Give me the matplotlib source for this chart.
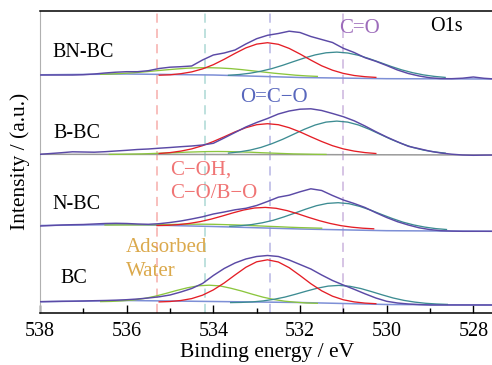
import numpy as np
import matplotlib.pyplot as plt

plt.rcParams['font.family'] = ['Liberation Serif', 'DejaVu Serif']

# ---- data (intensities in a.u., relative to each spectrum's own zero) ----
samples = ["BN-BC", "B-BC", "N-BC", "BC"]

# measured O1s spectra, 538 -> 527.5 eV every 0.25 eV
energy = np.arange(538.0, 527.4, -0.25)
raw = {
    "BN-BC": [4.0, 4.0, 4.0, 4.0, 4.3, 5.0, 6.0, 6.8, 7.3, 7.3, 8.3, 10.5, 11.8, 12.3, 13.0,
              19.0, 24.0, 26.0, 29.0, 35.0, 40.3, 43.7, 45.5, 47.8, 46.5, 42.5, 39.5, 36.5,
              30.7, 26.5, 21.3, 17.7, 13.5, 9.0, 5.5, 3.0, 1.2, 0.4, 0.3, 0.8, 2.0, 0.7, 0.0],
    "B-BC": [0.5, 1.3, 2.1, 3.0, 2.8, 2.6, 3.1, 3.8, 4.5, 5.3, 5.8, 6.6, 7.3, 8.1, 8.8,
             9.8, 11.5, 16.8, 22.3, 27.8, 32.3, 36.3, 40.8, 43.8, 45.6, 46.0, 44.3, 41.3,
             38.1, 34.0, 28.8, 23.1, 17.8, 13.0, 8.5, 6.1, 3.6, 1.8, 0.6, -0.2, -0.5, -0.3, -0.2],
    "N-BC": [5.0, 5.5, 6.0, 6.3, 6.5, 7.0, 7.5, 7.7, 7.5, 7.0, 6.7, 7.3, 8.5, 10.0, 12.0,
             14.2, 17.0, 19.0, 21.2, 22.7, 25.5, 29.5, 33.8, 35.8, 39.2, 42.2, 40.5, 35.5,
             31.0, 27.5, 23.5, 18.3, 13.5, 9.3, 6.0, 3.2, 1.4, 0.3, -0.1, -0.3, -0.3, -0.3, -0.3],
    "BC": [3.3, 3.5, 3.7, 3.8, 4.0, 4.3, 4.5, 4.8, 5.3, 6.0, 7.0, 8.2, 10.0, 13.0, 16.5,
           21.5, 29.5, 36.5, 42.0, 46.0, 48.5, 49.5, 48.5, 45.0, 40.5, 36.0, 30.0, 24.5,
           20.0, 15.7, 11.2, 7.0, 3.7, 2.0, 1.0, 0.4, 0.0, 0.0, 0.0, 0.0, 0.0, 0.0, 0.0],
}

# background under the fit
bg_energy = [538.0, 536.0, 534.0, 532.0, 530.0, 527.5]
background = {
    "BN-BC": [4.2, 5.0, 4.0, 1.5, 0.3, 0.0],
    "B-BC": [0.5, 0.4, 0.3, 0.2, 0.0, -0.2],
    "N-BC": [5.5, 6.5, 4.5, 2.0, 0.3, -0.3],
    "BC": [3.3, 4.5, 3.5, 2.5, 0.5, 0.0],
}

# fitted components: centre (eV) and curve sampled every 0.25 eV from centre+2.5 to centre-2.5
water_center = {"BN-BC": 534.1, "B-BC": 533.9, "N-BC": 534.0, "BC": 534.1}
water = {
    "BN-BC": [4.7, 5.0, 5.6, 6.2, 7.1, 8.1, 9.1, 10.0, 10.8, 11.2, 11.3, 11.0, 10.4, 9.4, 8.2, 7.0, 5.8, 4.8, 3.8, 3.1, 2.6],
    "B-BC": [0.4, 0.5, 0.7, 0.9, 1.3, 1.7, 2.1, 2.6, 2.9, 3.2, 3.3, 3.2, 2.9, 2.6, 2.1, 1.7, 1.3, 0.9, 0.7, 0.5, 0.4],
    "N-BC": [6.0, 6.0, 6.0, 6.1, 6.2, 6.3, 6.5, 6.7, 6.8, 6.8, 6.7, 6.4, 6.1, 5.7, 5.2, 4.7, 4.3, 3.8, 3.4, 3.1, 2.8],
    "BC": [3.4, 3.6, 4.2, 5.0, 6.5, 8.7, 11.5, 14.5, 17.2, 19.2, 19.8, 19.1, 16.8, 14.0, 10.8, 7.8, 5.5, 3.8, 2.8, 2.0, 1.7],
}
coh_center = {"BN-BC": 532.75, "B-BC": 532.75, "N-BC": 532.8, "BC": 532.75}
coh = {
    "BN-BC": [3.8, 4.2, 5.3, 7.1, 10.1, 14.3, 19.7, 25.6, 31.1, 34.9, 36.3, 34.7, 30.6, 25.0, 18.9, 13.2, 8.8, 5.6, 3.5, 2.3, 1.6],
    "B-BC": [1.3, 2.2, 3.7, 5.9, 9.1, 13.3, 18.0, 22.9, 27.1, 30.1, 31.1, 30.1, 27.1, 22.9, 18.0, 13.3, 9.1, 5.9, 3.7, 2.2, 1.3],
    "N-BC": [5.4, 5.7, 6.4, 7.6, 9.4, 11.9, 14.9, 18.1, 21.0, 23.0, 23.6, 22.7, 20.4, 17.2, 13.6, 10.3, 7.5, 5.3, 3.8, 2.8, 2.2],
    "BC": [3.1, 3.5, 4.5, 6.4, 9.8, 15.1, 22.0, 30.0, 37.7, 43.2, 45.2, 43.0, 37.3, 29.5, 21.3, 14.2, 8.8, 5.2, 3.1, 1.9, 1.3],
}
oco_center = {"BN-BC": 531.15, "B-BC": 531.15, "N-BC": 531.12, "BC": 531.1}
oco = {
    "BN-BC": [3.7, 4.5, 5.8, 7.8, 10.4, 13.7, 17.4, 21.0, 24.1, 26.2, 26.9, 26.0, 23.7, 20.3, 16.5, 12.6, 9.1, 6.3, 4.1, 2.6, 1.6],
    "B-BC": [1.7, 2.9, 4.7, 7.4, 11.1, 15.5, 20.5, 25.5, 29.8, 32.7, 33.7, 32.7, 29.8, 25.5, 20.5, 15.5, 11.1, 7.4, 4.7, 2.9, 1.7],
    "N-BC": [4.7, 5.3, 6.4, 8.2, 10.7, 14.1, 17.9, 21.8, 25.3, 27.6, 28.3, 27.3, 24.6, 20.9, 16.6, 12.5, 8.8, 6.0, 3.9, 2.4, 1.5],
    "BC": [2.4, 2.6, 3.1, 4.1, 5.7, 7.9, 10.8, 13.9, 16.8, 18.9, 19.6, 18.7, 16.5, 13.4, 10.1, 7.0, 4.6, 2.9, 1.7, 1.0, 0.6],
}

# reference binding energies (dashed guides)
ref_energy = [535.3, 534.2, 532.7, 531.0]
ref_color = ["#f7aeab", "#acd9d5", "#b7b5e4", "#cbb4de"]

# ---- layout ----
stack = {"BN-BC": 233.7, "B-BC": 157.9, "N-BC": 81.7, "BC": 7.7}
comp_offsets = np.arange(2.5, -2.51, -0.25)

fig = plt.figure(figsize=(4.92, 3.65), dpi=100)
ax = fig.add_axes([40 / 492, 52.3 / 365, 455 / 492, 302.2 / 365])

for e, c in zip(ref_energy, ref_color):
    ax.axvline(e, color=c, lw=1.1, ls=(0, (6, 4)), zorder=1)

for s in samples:
    y0 = stack[s]
    bg_col = "#9a9a9a" if s == "B-BC" else "#7d8fd6"
    ax.plot(bg_energy, y0 + np.array(background[s]), color=bg_col, lw=1.1, zorder=2)
    ax.plot(water_center[s] + comp_offsets, y0 + np.array(water[s]), color="#8cc63e", lw=0.95, zorder=3)
    ax.plot(oco_center[s] + comp_offsets, y0 + np.array(oco[s]), color="#3d8c92", lw=0.95, zorder=3)
    ax.plot(coh_center[s] + comp_offsets, y0 + np.array(coh[s]), color="#e41e26", lw=0.95, zorder=4)
    ax.plot(energy, y0 + np.array(raw[s]), color="#5b4aa6", lw=1.05, zorder=5)

ax.set_xlim(538, 527.5)
ax.set_ylim(0, 302.2)
ax.set_xticks([538, 536, 534, 532, 530, 528])
ax.set_xticks([537, 535, 533, 531, 529], minor=True)
ax.set_yticks([])
ax.tick_params(axis='x', which='major', direction='in', length=6, width=1, labelsize=14.5, pad=7)
ax.tick_params(axis='x', which='minor', direction='in', length=3.5, width=1)
for side in ['top', 'bottom']:
    ax.spines[side].set_linewidth(1.1)
ax.spines['left'].set_color('#b0b0b0')
ax.spines['left'].set_linewidth(0.8)
ax.spines['right'].set_visible(False)

ax.set_xlabel("Binding energy / eV", fontsize=15.5, labelpad=1)
ax.set_ylabel("Intensity / (a.u.)", fontsize=15.5, labelpad=7)

# sample names
ax.text(537.72, 255.4, "BN-BC", fontsize=14.5)
ax.text(537.68, 174.4, "B-BC", fontsize=14.5)
ax.text(537.72, 103.4, "N-BC", fontsize=14.5)
ax.text(537.52, 29.4, "BC", fontsize=14.5)
ax.text(529.0, 282.0, "O1s", fontsize=14.5)

# peak assignments
ax.text(531.1, 279.4, "C=O", fontsize=15, color="#9d6cbb")
ax.text(533.38, 211.0, "O=C\u2212O", fontsize=15, color="#5867bd")
ax.text(535.0, 137.7, "C\u2212OH,", fontsize=15, color="#f07575")
ax.text(535.0, 115.0, "C\u2212O/B\u2212O", fontsize=15, color="#f07575")
ax.text(536.02, 61.0, "Adsorbed", fontsize=15, color="#dba94c")
ax.text(536.02, 36.7, "Water", fontsize=15, color="#dba94c")

fig.savefig("out.png", dpi=100)
